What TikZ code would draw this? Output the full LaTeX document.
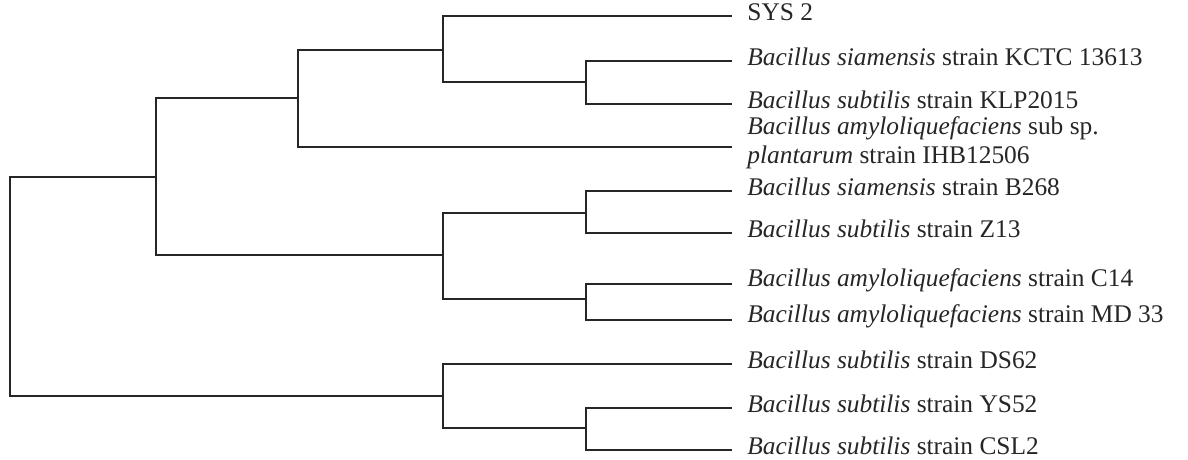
\documentclass[tikz,border=0pt]{standalone}
\usepackage{fontspec}
\setmainfont{Liberation Serif}
\usepackage{tikz}

\tikzset{
  branch/.style={line width=1.1pt,black!85},
  taxon/.style={anchor=west,inner sep=0pt,xshift=7.5pt,yshift=2pt,font=\fontsize{12.7}{14.5}\selectfont,align=left,text=black!85}
}

\begin{document}
\begin{tikzpicture}[x=0.5pt,y=-0.5pt]
    \useasboundingbox (0,0) rectangle (1188,460);
    %internal nodes of the tree
    \coordinate (root) at (10,287);
    \coordinate (na) at (156,177);
    \coordinate (nb) at (298,98);
    \coordinate (nc) at (443,50);
    \coordinate (nd) at (586,82);
    \coordinate (ne) at (443,255);
    \coordinate (nf) at (586,213);
    \coordinate (ng) at (586,299);
    \coordinate (nh) at (443,396);
    \coordinate (ni) at (586,428);
    %tips, all ending at the same x
    \coordinate (sys) at (732,16);
    \coordinate (kctc) at (732,61);
    \coordinate (klp) at (732,104);
    \coordinate (ihb) at (732,147);
    \coordinate (b268) at (732,191);
    \coordinate (z13) at (732,233);
    \coordinate (c14) at (732,284);
    \coordinate (md33) at (732,320);
    \coordinate (ds62) at (732,364);
    \coordinate (ys52) at (732,408);
    \coordinate (csl2) at (732,450);
    %branches
    \draw [branch] (root) |- (na);
    \draw [branch] (root) |- (nh);
    \draw [branch] (na) |- (nb);
    \draw [branch] (na) |- (ne);
    \draw [branch] (nb) |- (nc);
    \draw [branch] (nb) |- (ihb);
    \draw [branch] (nc) |- (sys);
    \draw [branch] (nc) |- (nd);
    \draw [branch] (nd) |- (kctc);
    \draw [branch] (nd) |- (klp);
    \draw [branch] (ne) |- (nf);
    \draw [branch] (ne) |- (ng);
    \draw [branch] (nf) |- (b268);
    \draw [branch] (nf) |- (z13);
    \draw [branch] (ng) |- (c14);
    \draw [branch] (ng) |- (md33);
    \draw [branch] (nh) |- (ds62);
    \draw [branch] (nh) |- (ni);
    \draw [branch] (ni) |- (ys52);
    \draw [branch] (ni) |- (csl2);
    %taxa
    \node [taxon] (tsys) at (sys) {SYS 2};
    \node [taxon] (tkctc) at (kctc) {\textit{Bacillus siamensis} strain KCTC 13613};
    \node [taxon] (tklp) at (klp) {\textit{Bacillus subtilis} strain KLP2015};
    \node [taxon] (tihb) at (ihb) {\textit{Bacillus amyloliquefaciens} sub sp.\\\textit{plantarum} strain IHB12506};
    \node [taxon] (tb268) at (b268) {\textit{Bacillus siamensis} strain B268};
    \node [taxon] (tz13) at (z13) {\textit{Bacillus subtilis} strain Z13};
    \node [taxon] (tc14) at (c14) {\textit{Bacillus amyloliquefaciens} strain C14};
    \node [taxon] (tmd33) at (md33) {\textit{Bacillus amyloliquefaciens} strain MD 33};
    \node [taxon] (tds62) at (ds62) {\textit{Bacillus subtilis} strain DS62};
    \node [taxon] (tys52) at (ys52) {\textit{Bacillus subtilis} strain YS52};
    \node [taxon] (tcsl2) at (csl2) {\textit{Bacillus subtilis} strain CSL2};
\end{tikzpicture}
\end{document}
